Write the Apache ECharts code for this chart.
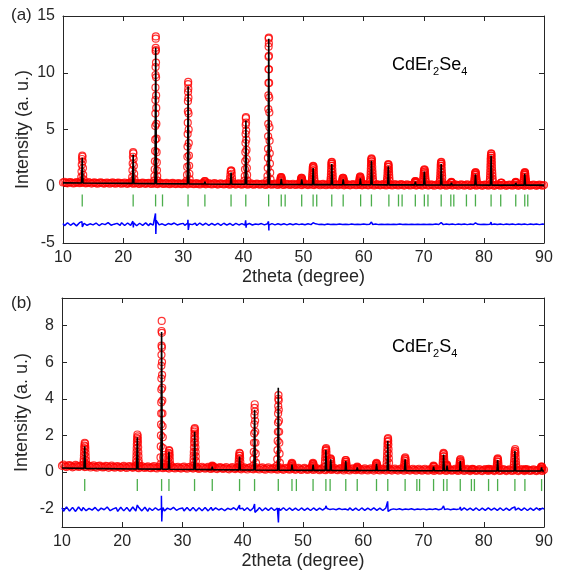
<!DOCTYPE html>
<html>
<head>
<meta charset="utf-8">
<script src="https://cdn.jsdelivr.net/npm/echarts@6/dist/echarts.min.js"></script>
<style>
html, body { margin: 0; padding: 0; background: #fff; }
#chart { width: 562px; height: 574px; }
</style>
</head>
<body>
<div id="chart"></div>
<script>
// ---------- scan grids (degrees 2theta): full steps and the half steps between them ----------
const scanStart = 10;
const scanStep = 0.5;
const halfStart = 10.25;

// ---------- (a) CdEr2Se4 ----------
// observed background intensity on the full-step grid
const obsBgA = [
  0.33,0.30,0.34,0.31,0.29,0.33,0.30,0.32,0.28,0.31,
  0.30,0.27,0.31,0.29,0.26,0.30,0.28,0.27,0.30,0.26,
  0.28,0.25,0.29,0.26,0.27,0.24,0.28,0.25,0.27,0.24,
  0.26,0.23,0.27,0.24,0.25,0.22,0.26,0.23,0.24,0.21,
  0.24,0.21,0.25,0.22,0.23,0.20,0.24,0.21,0.22,0.20,
  0.23,0.19,0.22,0.20,0.21,0.18,0.22,0.19,0.21,0.18,
  0.20,0.18,0.21,0.17,0.19,0.18,0.20,0.16,0.19,0.17,
  0.18,0.16,0.19,0.15,0.18,0.16,0.17,0.15,0.18,0.14,
  0.17,0.15,0.16,0.14,0.17,0.15,0.16,0.13,0.16,0.14,
  0.15,0.13,0.16,0.14,0.15,0.12,0.15,0.13,0.14,0.12,
  0.15,0.12,0.14,0.13,0.14,0.11,0.14,0.12,0.13,0.11,
  0.13,0.11,0.14,0.12,0.13,0.10,0.13,0.12,0.12,0.10,
  0.13,0.11,0.12,0.10,0.13,0.11,0.12,0.10,0.12,0.11,
  0.12,0.10,0.13,0.11,0.12,0.09,0.12,0.10,0.11,0.09,
  0.12,0.10,0.11,0.09,0.12,0.10,0.11,0.09,0.11,0.10,
  0.11,0.09,0.12,0.10,0.11,0.08,0.11,0.09,0.10,0.09,
  0.10
];
// observed background intensity on the half-step grid
const obsBgHalfA = [
  0.38,0.26,0.36,0.25,0.37,0.27,0.35,0.26,0.36,0.24,
  0.35,0.23,0.34,0.24,0.33,0.22,0.34,0.23,0.32,0.22,
  0.33,0.21,0.32,0.22,0.31,0.20,0.32,0.21,0.30,0.20,
  0.31,0.19,0.30,0.20,0.29,0.18,0.30,0.19,0.28,0.18,
  0.29,0.17,0.28,0.18,0.27,0.16,0.28,0.17,0.27,0.16,
  0.27,0.15,0.26,0.16,0.26,0.14,0.26,0.15,0.25,0.14,
  0.25,0.13,0.25,0.14,0.24,0.13,0.24,0.12,0.24,0.13,
  0.23,0.12,0.23,0.11,0.22,0.12,0.22,0.11,0.22,0.10,
  0.22,0.10,0.21,0.10,0.21,0.09,0.21,0.09,0.20,0.10,
  0.20,0.09,0.20,0.08,0.20,0.08,0.19,0.09,0.19,0.08,
  0.19,0.08,0.19,0.07,0.18,0.08,0.18,0.07,0.18,0.07,
  0.18,0.07,0.18,0.06,0.17,0.07,0.17,0.06,0.17,0.06,
  0.17,0.06,0.17,0.05,0.16,0.06,0.16,0.05,0.16,0.06,
  0.16,0.05,0.16,0.05,0.16,0.04,0.15,0.05,0.15,0.04,
  0.15,0.05,0.15,0.04,0.15,0.05,0.15,0.04,0.14,0.05,
  0.14,0.04,0.15,0.04,0.14,0.05,0.14,0.04,0.14,0.05
];
// observed points across the reflections [2theta, intensity]
const obsPeaksA = [
  [12.98,0.45],[13.04,0.8],[13.08,1.3],[13.12,1.9],[13.16,2.4],[13.20,2.7],[13.24,2.6],[13.28,2.2],[13.32,1.6],[13.36,1.0],[13.42,0.6],
  [21.45,0.45],[21.51,0.8],[21.55,1.4],[21.59,2.0],[21.63,2.6],[21.67,3.0],[21.71,2.9],[21.75,2.4],[21.79,1.8],[21.83,1.1],[21.89,0.6],
  [25.16,0.5],[25.21,0.9],[25.25,1.5],[25.28,2.2],[25.31,3.1],[25.33,4.1],[25.35,5.3],[25.36,6.4],[25.37,7.6],[25.38,8.7],[25.39,9.8],[25.40,10.5],[25.41,11.9],[25.42,12.2],[25.43,13.0],[25.44,13.2],[25.46,12.0],[25.47,10.9],[25.48,9.6],[25.49,8.0],[25.51,6.9],[25.53,5.5],[25.55,4.2],[25.57,3.0],[25.60,2.1],[25.63,1.4],[25.67,0.9],[25.72,0.5],
  [30.58,0.5],[30.63,1.0],[30.66,1.7],[30.69,2.6],[30.71,3.5],[30.73,4.6],[30.75,5.6],[30.77,6.6],[30.78,7.5],[30.80,8.3],[30.81,9.0],[30.82,9.2],[30.84,8.6],[30.86,7.8],[30.88,6.4],[30.90,5.0],[30.92,3.8],[30.95,2.7],[30.98,1.8],[31.02,1.1],[31.07,0.6],
  [33.50,0.35],[33.56,0.45],[33.62,0.45],[33.68,0.35],
  [37.73,0.4],[37.79,0.7],[37.84,1.0],[37.89,1.3],[37.95,1.4],[38.01,1.35],[38.06,1.1],[38.11,0.75],[38.17,0.45],
  [40.18,0.5],[40.23,0.9],[40.27,1.5],[40.30,2.2],[40.33,3.0],[40.35,3.8],[40.37,4.6],[40.39,5.4],[40.41,6.0],[40.43,6.1],[40.45,5.6],[40.47,4.9],[40.49,4.1],[40.52,3.2],[40.55,2.4],[40.58,1.6],[40.62,1.0],[40.67,0.5],
  [43.96,0.5],[44.01,0.9],[44.05,1.6],[44.08,2.5],[44.10,3.3],[44.12,4.4],[44.14,5.5],[44.15,6.8],[44.16,8.0],[44.17,9.1],[44.18,10.3],[44.19,11.4],[44.20,12.3],[44.21,13.0],[44.23,13.1],[44.24,12.6],[44.25,11.5],[44.26,10.3],[44.28,9.1],[44.30,7.8],[44.32,6.5],[44.34,5.2],[44.36,4.0],[44.39,2.9],[44.42,2.0],[44.46,1.2],[44.51,0.6],
  [46.10,0.35],[46.14,0.5],[46.17,0.6],[46.21,0.72],[46.24,0.8],[46.31,0.8],[46.35,0.72],[46.38,0.6],[46.41,0.5],[46.45,0.35],
  [49.50,0.35],[49.54,0.45],[49.57,0.55],[49.61,0.68],[49.64,0.75],[49.71,0.75],[49.75,0.65],[49.78,0.55],[49.82,0.45],[49.85,0.35],
  [51.38,0.4],[51.41,0.6],[51.44,0.8],[51.47,1.0],[51.49,1.2],[51.52,1.4],[51.54,1.6],[51.57,1.72],[51.60,1.8],[51.66,1.75],[51.69,1.6],[51.71,1.4],[51.74,1.15],[51.76,0.9],[51.79,0.7],[51.82,0.5],
  [54.48,0.4],[54.51,0.6],[54.54,0.8],[54.56,1.05],[54.58,1.3],[54.60,1.55],[54.62,1.8],[54.65,1.98],[54.67,2.1],[54.72,2.15],[54.75,2.0],[54.77,1.8],[54.80,1.5],[54.82,1.2],[54.85,0.95],[54.87,0.7],[54.93,0.4],
  [56.40,0.35],[56.44,0.45],[56.47,0.55],[56.51,0.68],[56.54,0.75],[56.61,0.75],[56.65,0.65],[56.68,0.55],[56.72,0.45],[56.75,0.35],
  [59.25,0.35],[59.29,0.48],[59.32,0.6],[59.36,0.74],[59.39,0.85],[59.46,0.85],[59.50,0.72],[59.53,0.6],[59.57,0.47],[59.60,0.35],
  [61.08,0.4],[61.11,0.6],[61.14,0.8],[61.16,1.05],[61.18,1.3],[61.20,1.55],[61.22,1.8],[61.24,2.0],[61.26,2.2],[61.28,2.35],[61.30,2.45],[61.35,2.4],[61.38,2.2],[61.40,2.0],[61.43,1.7],[61.45,1.4],[61.48,1.15],[61.50,0.9],[61.53,0.65],[61.56,0.45],
  [63.88,0.4],[63.91,0.6],[63.94,0.8],[63.97,1.05],[63.99,1.3],[64.02,1.5],[64.04,1.7],[64.07,1.85],[64.09,1.95],[64.15,1.9],[64.18,1.7],[64.20,1.5],[64.23,1.25],[64.25,1.0],[64.28,0.75],[64.31,0.5],
  [68.50,0.3],[68.54,0.38],[68.57,0.45],[68.64,0.45],[68.68,0.38],[68.71,0.3],
  [69.88,0.4],[69.91,0.58],[69.94,0.75],[69.97,0.92],[69.99,1.1],[70.02,1.25],[70.04,1.4],[70.10,1.5],[70.16,1.45],[70.19,1.3],[70.21,1.15],[70.24,0.95],[70.26,0.75],[70.29,0.58],[70.32,0.4],
  [72.68,0.4],[72.71,0.6],[72.74,0.8],[72.76,1.05],[72.78,1.3],[72.80,1.55],[72.82,1.8],[72.85,1.98],[72.87,2.1],[72.92,2.15],[72.95,2.0],[72.97,1.8],[73.00,1.5],[73.02,1.2],[73.05,0.95],[73.07,0.7],[73.13,0.35],
  [74.52,0.3],[74.56,0.35],[74.60,0.38],[74.64,0.35],[74.68,0.3],
  [78.38,0.35],[78.42,0.5],[78.45,0.65],[78.48,0.82],[78.51,1.0],[78.54,1.12],[78.57,1.2],[78.63,1.25],[78.66,1.15],[78.69,1.0],[78.72,0.82],[78.75,0.65],[78.79,0.5],[78.82,0.35],
  [80.98,0.4],[81.01,0.6],[81.03,0.8],[81.05,1.05],[81.07,1.3],[81.09,1.55],[81.10,1.8],[81.12,2.05],[81.13,2.3],[81.15,2.5],[81.17,2.7],[81.21,2.9],[81.25,2.85],[81.27,2.7],[81.29,2.5],[81.31,2.25],[81.33,2.0],[81.35,1.7],[81.37,1.4],[81.40,1.15],[81.42,0.9],[81.45,0.65],[81.48,0.45],
  [82.85,0.3],[82.90,0.32],[82.95,0.3],
  [85.22,0.3],[85.26,0.35],[85.30,0.38],[85.34,0.35],[85.38,0.3],
  [86.58,0.35],[86.62,0.5],[86.65,0.65],[86.68,0.82],[86.71,1.0],[86.74,1.12],[86.77,1.2],[86.83,1.25],[86.86,1.15],[86.89,1.0],[86.92,0.82],[86.95,0.65],[86.99,0.5],[87.02,0.35]
];
// calculated profile [2theta, intensity]
const calcA = [
  [10,0.30],[13.08,0.28],[13.2,2.5],[13.32,0.28],
  [21.55,0.25],[21.67,2.8],[21.79,0.25],
  [25.30,0.23],[25.42,12.2],[25.54,0.23],
  [30.70,0.21],[30.81,8.8],[30.93,0.21],
  [33.50,0.20],[33.6,0.4],[33.70,0.20],
  [37.85,0.18],[37.95,1.2],[38.07,0.18],
  [40.30,0.17],[40.42,5.8],[40.54,0.17],
  [44.10,0.16],[44.22,13.0],[44.34,0.16],
  [46.20,0.15],[46.3,0.65],[46.42,0.15],
  [49.60,0.15],[49.7,0.6],[49.82,0.15],
  [51.50,0.14],[51.6,1.6],[51.72,0.14],
  [54.60,0.14],[54.7,1.95],[54.82,0.14],
  [56.50,0.13],[56.6,0.6],[56.72,0.13],
  [59.35,0.13],[59.45,0.7],[59.57,0.13],
  [61.20,0.13],[61.3,2.25],[61.42,0.13],
  [64.00,0.12],[64.1,1.75],[64.22,0.12],
  [68.50,0.12],[68.6,0.4],[68.72,0.12],
  [70.00,0.12],[70.1,1.3],[70.22,0.12],
  [72.80,0.11],[72.9,1.95],[73.02,0.11],
  [74.50,0.11],[74.6,0.3],[74.72,0.11],
  [78.50,0.11],[78.6,1.05],[78.72,0.11],
  [81.10,0.10],[81.2,2.7],[81.32,0.10],
  [82.80,0.10],[82.9,0.25],[83.00,0.10],
  [85.20,0.10],[85.3,0.3],[85.42,0.10],
  [86.70,0.10],[86.8,1.1],[86.92,0.10],
  [90,0.10]
];
// Bragg reflection positions
const braggA = [13.2,21.67,25.4,26.55,30.8,33.6,37.95,40.4,44.2,46.3,46.95,49.7,51.6,52.2,54.7,56.6,59.5,61.3,64.2,65.8,66.4,68.6,70.1,70.7,72.9,74.5,75.0,77.1,78.6,81.2,82.8,85.3,86.8,87.3];
const braggLevelA = -1.25;
// difference curve (obs - calc, offset) on the full-step grid
const diffBaseA = [
  -3.28,-3.45,-3.30,-3.42,-3.22,-3.47,-3.33,-3.26,-3.44,-3.31,
  -3.40,-3.24,-3.46,-3.29,-3.38,-3.21,-3.43,-3.34,-3.27,-3.45,
  -3.32,-3.41,-3.25,-3.47,-3.30,-3.39,-3.23,-3.44,-3.36,-3.28,
  -3.42,-3.26,-3.40,-3.31,-3.45,-3.29,-3.37,-3.24,-3.41,-3.33,
  -3.27,-3.43,-3.32,-3.38,-3.26,-3.42,-3.30,-3.40,-3.29,-3.36,
  -3.41,-3.28,-3.39,-3.31,-3.43,-3.30,-3.37,-3.27,-3.40,-3.33,
  -3.30,-3.39,-3.28,-3.41,-3.32,-3.37,-3.29,-3.40,-3.31,-3.38,
  -3.33,-3.39,-3.30,-3.37,-3.32,-3.40,-3.31,-3.36,-3.34,-3.38,
  -3.32,-3.37,-3.33,-3.38,-3.31,-3.36,-3.34,-3.39,-3.32,-3.37,
  -3.34,-3.37,-3.32,-3.36,-3.35,-3.38,-3.33,-3.37,-3.34,-3.36,
  -3.33,-3.37,-3.35,-3.36,-3.33,-3.38,-3.34,-3.36,-3.35,-3.37,
  -3.34,-3.36,-3.33,-3.37,-3.35,-3.36,-3.34,-3.37,-3.35,-3.36,
  -3.34,-3.37,-3.35,-3.36,-3.33,-3.37,-3.35,-3.36,-3.34,-3.37,
  -3.35,-3.36,-3.34,-3.37,-3.35,-3.36,-3.34,-3.36,-3.35,-3.37,
  -3.34,-3.36,-3.35,-3.37,-3.34,-3.36,-3.35,-3.36,-3.34,-3.37,
  -3.35,-3.36,-3.34,-3.37,-3.35,-3.36,-3.34,-3.36,-3.35,-3.36,
  -3.35
];
// difference curve on the half-step grid
const diffHalfA = [
  -3.47,-3.22,-3.44,-3.25,-3.49,-3.21,-3.43,-3.27,-3.46,-3.23,
  -3.45,-3.20,-3.48,-3.26,-3.44,-3.22,-3.47,-3.25,-3.43,-3.21,
  -3.46,-3.24,-3.45,-3.22,-3.48,-3.26,-3.44,-3.23,-3.47,-3.25,
  -3.44,-3.22,-3.46,-3.25,-3.43,-3.23,-3.47,-3.26,-3.44,-3.24,
  -3.45,-3.25,-3.43,-3.27,-3.46,-3.24,-3.42,-3.26,-3.45,-3.28,
  -3.43,-3.27,-3.44,-3.26,-3.42,-3.28,-3.44,-3.27,-3.41,-3.29,
  -3.42,-3.28,-3.41,-3.29,-3.43,-3.28,-3.40,-3.30,-3.42,-3.29,
  -3.40,-3.30,-3.39,-3.31,-3.40,-3.30,-3.39,-3.31,-3.38,-3.32,
  -3.39,-3.31,-3.38,-3.32,-3.39,-3.31,-3.38,-3.32,-3.38,-3.31,
  -3.38,-3.32,-3.37,-3.33,-3.38,-3.32,-3.37,-3.33,-3.38,-3.32,
  -3.37,-3.33,-3.38,-3.32,-3.37,-3.33,-3.38,-3.33,-3.37,-3.32,
  -3.38,-3.33,-3.37,-3.32,-3.38,-3.33,-3.37,-3.33,-3.38,-3.32,
  -3.37,-3.32,-3.38,-3.33,-3.37,-3.32,-3.38,-3.33,-3.37,-3.33,
  -3.38,-3.33,-3.37,-3.32,-3.38,-3.33,-3.37,-3.32,-3.38,-3.33,
  -3.37,-3.33,-3.38,-3.32,-3.37,-3.33,-3.38,-3.33,-3.37,-3.32,
  -3.38,-3.32,-3.37,-3.33,-3.38,-3.33,-3.37,-3.32,-3.38,-3.33
];
// misfit excursions at the reflections [2theta, difference]
const diffSpikesA = [
  [13.15,-3.12],[13.22,-3.58],
  [21.62,-3.08],[21.70,-3.62],
  [25.38,-2.4],[25.44,-4.2],[25.50,-3.0],
  [30.78,-2.95],[30.84,-3.85],
  [37.95,-3.12],
  [40.38,-3.0],[40.45,-3.65],
  [44.18,-3.1],[44.24,-3.9],
  [51.60,-3.22],[54.70,-3.2],[61.30,-3.15],[64.10,-3.2],[70.10,-3.22],[72.90,-3.2],[78.60,-3.22],
  [81.20,-3.15],[81.27,-3.45],[86.80,-3.22]
];

// ---------- (b) CdEr2S4 ----------
const obsBgB = [
  0.34,0.31,0.35,0.32,0.30,0.34,0.31,0.33,0.29,0.32,
  0.31,0.28,0.32,0.30,0.27,0.31,0.29,0.28,0.30,0.27,
  0.29,0.26,0.30,0.27,0.28,0.25,0.29,0.26,0.27,0.24,
  0.27,0.24,0.27,0.25,0.26,0.23,0.26,0.23,0.25,0.22,
  0.25,0.22,0.25,0.23,0.24,0.21,0.24,0.22,0.23,0.20,
  0.23,0.20,0.23,0.21,0.22,0.19,0.22,0.20,0.21,0.19,
  0.21,0.19,0.22,0.18,0.20,0.18,0.21,0.17,0.20,0.18,
  0.19,0.17,0.20,0.16,0.19,0.17,0.18,0.16,0.18,0.15,
  0.18,0.16,0.17,0.15,0.18,0.15,0.17,0.14,0.16,0.15,
  0.16,0.14,0.17,0.15,0.16,0.13,0.16,0.14,0.15,0.13,
  0.15,0.13,0.15,0.14,0.14,0.12,0.15,0.13,0.14,0.12,
  0.14,0.12,0.14,0.13,0.13,0.11,0.14,0.12,0.13,0.11,
  0.13,0.11,0.13,0.12,0.13,0.10,0.12,0.11,0.12,0.10,
  0.12,0.10,0.13,0.11,0.12,0.10,0.12,0.10,0.11,0.09,
  0.12,0.10,0.11,0.10,0.11,0.09,0.11,0.10,0.11,0.09,
  0.11,0.09,0.11,0.10,0.10,0.09,0.11,0.09,0.10,0.09,
  0.12
];
const obsBgHalfB = [
  0.40,0.27,0.38,0.26,0.39,0.28,0.37,0.27,0.38,0.25,
  0.36,0.24,0.35,0.25,0.34,0.23,0.35,0.24,0.33,0.23,
  0.34,0.22,0.33,0.23,0.32,0.21,0.33,0.22,0.31,0.21,
  0.32,0.20,0.31,0.21,0.30,0.19,0.31,0.20,0.29,0.19,
  0.30,0.18,0.29,0.19,0.28,0.17,0.29,0.18,0.28,0.17,
  0.28,0.16,0.27,0.17,0.27,0.15,0.27,0.16,0.26,0.15,
  0.26,0.14,0.26,0.15,0.25,0.14,0.25,0.13,0.25,0.14,
  0.24,0.13,0.24,0.12,0.23,0.13,0.23,0.12,0.23,0.11,
  0.23,0.11,0.22,0.11,0.22,0.10,0.22,0.10,0.21,0.11,
  0.21,0.10,0.21,0.09,0.21,0.09,0.20,0.10,0.20,0.09,
  0.20,0.09,0.20,0.08,0.19,0.09,0.19,0.08,0.19,0.08,
  0.19,0.08,0.19,0.07,0.18,0.08,0.18,0.07,0.18,0.07,
  0.18,0.07,0.18,0.06,0.17,0.07,0.17,0.06,0.17,0.07,
  0.17,0.06,0.17,0.06,0.17,0.05,0.16,0.06,0.16,0.05,
  0.16,0.06,0.16,0.05,0.16,0.06,0.16,0.05,0.15,0.06,
  0.15,0.05,0.16,0.05,0.15,0.06,0.15,0.05,0.15,0.06
];
const obsPeaksB = [
  [13.55,0.4],[13.58,0.55],[13.61,0.7],[13.64,0.9],[13.66,1.1],[13.69,1.3],[13.71,1.45],[13.77,1.6],[13.83,1.55],[13.86,1.4],[13.88,1.25],[13.91,1.05],[13.93,0.85],[13.96,0.65],[13.99,0.45],
  [22.28,0.35],[22.31,0.52],[22.34,0.7],[22.36,0.9],[22.38,1.1],[22.40,1.3],[22.42,1.5],[22.44,1.68],[22.46,1.85],[22.51,2.05],[22.56,1.95],[22.59,1.78],[22.61,1.6],[22.64,1.35],[22.66,1.1],[22.69,0.88],[22.71,0.65],[22.74,0.5],[22.77,0.35],
  [26.30,0.4],[26.35,0.8],[26.39,1.4],[26.42,2.0],[26.44,2.6],[26.46,3.2],[26.47,3.8],[26.48,4.5],[26.49,5.1],[26.50,5.8],[26.51,6.4],[26.52,6.9],[26.53,7.7],[26.55,8.25],[26.57,7.6],[26.58,6.8],[26.60,6.0],[26.61,5.3],[26.63,4.6],[26.65,3.9],[26.67,3.2],[26.69,2.5],[26.72,1.9],[26.75,1.3],[26.79,0.8],[26.84,0.4],
  [27.60,0.4],[27.63,0.58],[27.66,0.75],[27.69,0.92],[27.71,1.05],[27.76,1.2],[27.82,1.15],[27.85,1.0],[27.87,0.85],[27.90,0.65],[27.93,0.45],
  [31.78,0.35],[31.81,0.52],[31.84,0.7],[31.86,0.9],[31.88,1.1],[31.90,1.35],[31.92,1.6],[31.94,1.8],[31.96,2.0],[31.98,2.2],[32.00,2.35],[32.04,2.4],[32.06,2.28],[32.08,2.1],[32.10,1.85],[32.12,1.6],[32.15,1.35],[32.17,1.1],[32.20,0.85],[32.22,0.6],[32.28,0.3],
  [34.86,0.25],[34.90,0.3],[34.94,0.35],[34.98,0.33],[35.02,0.3],
  [39.27,0.3],[39.30,0.45],[39.33,0.6],[39.36,0.75],[39.39,0.9],[39.45,1.05],[39.51,1.0],[39.54,0.88],[39.57,0.75],[39.60,0.55],[39.64,0.35],
  [41.74,0.35],[41.79,0.7],[41.83,1.1],[41.86,1.6],[41.89,2.1],[41.92,2.6],[41.94,3.1],[41.96,3.5],[41.99,3.7],[42.02,3.3],[42.05,2.8],[42.08,2.2],[42.11,1.6],[42.15,1.0],[42.20,0.5],
  [45.68,0.35],[45.73,0.7],[45.77,1.2],[45.80,1.7],[45.83,2.2],[45.85,2.7],[45.87,3.2],[45.89,3.6],[45.91,4.0],[45.93,4.2],[45.96,3.9],[45.98,3.4],[46.01,2.8],[46.04,2.2],[46.07,1.6],[46.11,1.0],[46.16,0.5],
  [48.00,0.25],[48.04,0.32],[48.08,0.4],[48.12,0.46],[48.16,0.5],[48.24,0.45],[48.28,0.35],[48.32,0.25],
  [51.50,0.25],[51.54,0.32],[51.58,0.4],[51.62,0.46],[51.66,0.5],[51.74,0.45],[51.78,0.35],[51.82,0.25],
  [53.60,0.3],[53.63,0.48],[53.66,0.65],[53.69,0.82],[53.72,1.0],[53.75,1.15],[53.78,1.25],[53.84,1.3],[53.87,1.2],[53.90,1.05],[53.93,0.85],[53.96,0.65],
  [54.50,0.6],[54.54,0.68],[54.57,0.75],[54.64,0.7],[54.68,0.58],[54.71,0.45],[54.75,0.32],[54.78,0.2],
  [56.92,0.25],[56.96,0.35],[56.99,0.45],[57.03,0.56],[57.06,0.65],[57.13,0.65],[57.17,0.55],[57.20,0.45],[57.24,0.35],[57.27,0.25],
  [58.92,0.2],[58.96,0.26],[59.00,0.3],[59.04,0.26],[59.08,0.2],
  [62.03,0.25],[62.07,0.32],[62.11,0.4],[62.15,0.46],[62.19,0.5],[62.27,0.45],[62.31,0.35],[62.35,0.25],
  [63.86,0.3],[63.89,0.5],[63.92,0.7],[63.95,0.9],[63.97,1.1],[64.00,1.3],[64.02,1.5],[64.05,1.65],[64.07,1.8],[64.12,1.85],[64.15,1.7],[64.17,1.5],[64.20,1.25],[64.22,1.0],[64.25,0.75],[64.28,0.5],
  [66.76,0.25],[66.80,0.38],[66.83,0.5],[66.87,0.64],[66.90,0.75],[66.97,0.8],[67.01,0.7],[67.04,0.6],[67.08,0.45],[67.11,0.3],
  [71.58,0.2],[71.62,0.28],[71.66,0.35],[71.70,0.33],[71.74,0.3],[71.82,0.15],
  [73.14,0.25],[73.17,0.4],[73.20,0.55],[73.23,0.7],[73.26,0.85],[73.29,0.96],[73.32,1.05],[73.38,1.0],[73.41,0.85],[73.44,0.7],[73.47,0.55],[73.50,0.4],
  [73.82,0.35],[73.86,0.38],[73.90,0.4],[73.94,0.33],[73.98,0.25],
  [75.92,0.2],[75.96,0.32],[75.99,0.45],[76.03,0.56],[76.06,0.65],[76.13,0.7],[76.17,0.6],[76.20,0.5],[76.24,0.38],[76.27,0.25],
  [78.05,0.15],[78.13,0.18],
  [80.75,0.15],[80.83,0.17],
  [82.12,0.2],[82.16,0.32],[82.19,0.45],[82.23,0.58],[82.26,0.7],[82.33,0.75],[82.37,0.66],[82.40,0.55],[82.44,0.4],[82.47,0.25],
  [84.97,0.25],[85.00,0.4],[85.03,0.55],[85.06,0.72],[85.09,0.9],[85.12,1.03],[85.15,1.15],[85.21,1.25],[85.24,1.12],[85.27,1.0],[85.30,0.8],[85.33,0.6],[85.37,0.42],[85.40,0.25],
  [86.85,0.13],[86.93,0.16],
  [89.48,0.18],[89.52,0.25],[89.56,0.3],[89.64,0.3],[89.68,0.25],[89.72,0.18]
];
const calcB = [
  [10,0.22],[13.65,0.20],[13.77,1.4],[13.89,0.20],
  [22.38,0.17],[22.5,1.9],[22.62,0.17],
  [26.42,0.16],[26.53,7.65],[26.65,0.16],
  [27.65,0.15],[27.75,1.1],[27.87,0.15],
  [31.90,0.14],[32.02,2.2],[32.14,0.14],
  [34.86,0.13],[34.94,0.3],[35.04,0.13],
  [39.37,0.12],[39.47,0.85],[39.59,0.12],
  [41.86,0.11],[41.97,3.4],[42.09,0.11],
  [45.80,0.10],[45.9,4.6],[46.02,0.10],
  [48.07,0.10],[48.17,0.4],[48.29,0.10],
  [51.57,0.09],[51.67,0.4],[51.79,0.09],
  [53.70,0.09],[53.8,1.2],[53.92,0.09],
  [54.50,0.09],[54.6,0.7],[54.72,0.09],
  [57.00,0.08],[57.1,0.6],[57.22,0.08],
  [58.90,0.08],[59.0,0.25],[59.12,0.08],
  [62.10,0.08],[62.2,0.45],[62.32,0.08],
  [63.97,0.08],[64.07,1.7],[64.19,0.08],
  [66.85,0.07],[66.95,0.7],[67.07,0.07],
  [71.57,0.07],[71.67,0.3],[71.79,0.07],
  [73.23,0.07],[73.33,0.95],[73.45,0.07],
  [73.80,0.07],[73.9,0.35],[74.02,0.07],
  [76.00,0.07],[76.1,0.6],[76.22,0.07],
  [78.00,0.06],[78.1,0.12],[78.20,0.06],
  [80.70,0.06],[80.8,0.12],[80.90,0.06],
  [82.20,0.06],[82.3,0.65],[82.42,0.06],
  [85.07,0.06],[85.17,1.15],[85.29,0.06],
  [86.80,0.06],[86.9,0.12],[87.00,0.06],
  [89.50,0.06],[89.6,0.25],[89.72,0.06],
  [90,0.06]
];
const braggB = [13.77,22.5,26.53,27.75,32.0,34.94,39.47,41.96,45.9,48.17,48.9,51.67,53.8,54.5,57.1,59.0,62.2,64.07,66.95,68.9,69.35,71.67,73.33,73.9,76.1,77.95,78.45,80.8,82.3,85.17,86.83,89.6];
const braggLevelB = -0.71;
const diffBaseB = [
  -1.95,-2.12,-1.97,-2.10,-1.92,-2.13,-2.00,-1.94,-2.11,-1.98,
  -2.08,-1.93,-2.12,-1.97,-2.06,-1.91,-2.11,-2.01,-1.95,-2.12,
  -1.99,-2.09,-1.94,-2.13,-1.98,-2.07,-1.93,-2.10,-2.03,-1.96,
  -2.10,-1.95,-2.08,-1.99,-2.12,-1.97,-2.05,-1.93,-2.09,-2.00,
  -1.96,-2.10,-2.00,-2.06,-1.95,-2.10,-1.98,-2.08,-1.97,-2.04,
  -2.09,-1.96,-2.07,-1.99,-2.11,-1.98,-2.05,-1.95,-2.08,-2.01,
  -1.98,-2.07,-1.96,-2.09,-2.00,-2.05,-1.97,-2.08,-1.99,-2.06,
  -2.00,-2.07,-1.97,-2.05,-1.99,-2.08,-1.98,-2.04,-2.01,-2.06,
  -1.99,-2.06,-2.00,-2.07,-1.98,-2.04,-2.01,-2.07,-1.99,-2.05,
  -2.01,-2.06,-1.99,-2.05,-2.02,-2.07,-2.00,-2.05,-2.01,-2.04,
  -2.00,-2.06,-2.02,-2.05,-1.99,-2.07,-2.01,-2.04,-2.02,-2.06,
  -2.01,-2.05,-2.00,-2.06,-2.02,-2.04,-2.00,-2.06,-2.02,-2.05,
  -2.01,-2.06,-2.02,-2.04,-2.00,-2.06,-2.02,-2.05,-2.01,-2.06,
  -2.02,-2.05,-2.01,-2.06,-2.02,-2.04,-2.00,-2.05,-2.02,-2.06,
  -2.01,-2.05,-2.02,-2.06,-2.01,-2.04,-2.02,-2.05,-2.01,-2.06,
  -2.02,-2.05,-2.01,-2.06,-2.02,-2.04,-2.01,-2.05,-2.02,-2.04,
  -2.03
];
const diffHalfB = [
  -2.14,-1.90,-2.13,-1.93,-2.15,-1.91,-2.12,-1.94,-2.14,-1.92,
  -2.13,-1.91,-2.14,-1.94,-2.12,-1.90,-2.13,-1.93,-2.15,-1.92,
  -2.12,-1.93,-2.14,-1.91,-2.13,-1.94,-2.12,-1.92,-2.14,-1.93,
  -2.13,-1.92,-2.12,-1.94,-2.14,-1.93,-2.11,-1.92,-2.13,-1.94,
  -2.12,-1.94,-2.11,-1.93,-2.13,-1.95,-2.11,-1.94,-2.12,-1.93,
  -2.11,-1.95,-2.12,-1.94,-2.10,-1.95,-2.11,-1.94,-2.12,-1.96,
  -2.10,-1.95,-2.11,-1.96,-2.10,-1.94,-2.11,-1.96,-2.09,-1.95,
  -2.10,-1.96,-2.09,-1.95,-2.10,-1.96,-2.09,-1.97,-2.10,-1.96,
  -2.09,-1.97,-2.10,-1.96,-2.09,-1.97,-2.08,-1.96,-2.09,-1.97,
  -2.10,-1.96,-2.09,-1.97,-2.08,-1.96,-2.09,-1.97,-2.10,-1.96,
  -2.09,-1.97,-2.08,-1.96,-2.09,-1.97,-2.10,-1.96,-2.09,-1.97,
  -2.08,-1.97,-2.09,-1.96,-2.10,-1.97,-2.09,-1.96,-2.08,-1.97,
  -2.09,-1.96,-2.10,-1.97,-2.09,-1.96,-2.08,-1.97,-2.09,-1.96,
  -2.10,-1.97,-2.09,-1.96,-2.08,-1.97,-2.09,-1.96,-2.10,-1.97,
  -2.09,-1.96,-2.08,-1.97,-2.09,-1.96,-2.10,-1.97,-2.09,-1.96,
  -2.08,-1.97,-2.09,-1.96,-2.10,-1.97,-2.09,-1.96,-2.08,-1.97
];
const diffSpikesB = [
  [13.77,-1.85],[22.50,-1.8],
  [26.50,-1.3],[26.56,-2.7],[26.62,-2.2],
  [27.75,-1.9],[32.00,-1.9],[39.47,-1.8],
  [41.96,-1.75],[42.02,-2.2],
  [45.85,-1.9],[45.92,-2.75],
  [53.80,-1.85],[64.05,-1.6],[64.12,-2.15],
  [73.33,-1.85],[76.10,-1.9],[85.17,-1.9]
];

// axis tick labels
const xTicks = [10, 20, 30, 40, 50, 60, 70, 80, 90];
const yTicksA = [-5, 0, 5, 10, 15];
const yTicksB = [-2, 0, 2, 4, 6, 8];

// ---------- helpers ----------
const FONT = '"Liberation Sans", Arial, Helvetica, sans-serif';
const AXIS_COLOR = '#262626';

function onGrid(values, start) {
  return values.map((v, i) => [start + i * scanStep, v]);
}
function byX(a, b) { return a[0] - b[0]; }

function xAxes(gi) {
  const common = {
    gridIndex: gi, type: 'value', min: xTicks[0], max: xTicks[xTicks.length - 1], interval: 10,
    axisLine: { show: true, onZero: false, lineStyle: { color: AXIS_COLOR, width: 1 } },
    axisTick: { show: true, inside: true, length: 5, lineStyle: { color: AXIS_COLOR } },
    splitLine: { show: false }
  };
  return [
    Object.assign({}, common, {
      position: 'bottom',
      axisLabel: { color: AXIS_COLOR, fontSize: 16, fontFamily: FONT, margin: 7 },
      name: '2theta (degree)', nameLocation: 'middle', nameGap: 25, nameMoveOverlap: false,
      nameTextStyle: { color: AXIS_COLOR, fontSize: 18, fontFamily: FONT }
    }),
    Object.assign({}, common, { position: 'top', axisLabel: { show: false } })
  ];
}
function yAxes(gi, min, max, ticks) {
  const common = {
    gridIndex: gi, type: 'value', min: min, max: max,
    axisLine: { show: true, onZero: false, lineStyle: { color: AXIS_COLOR, width: 1 } },
    axisTick: { show: true, inside: true, length: 5, customValues: ticks, lineStyle: { color: AXIS_COLOR } },
    splitLine: { show: false }
  };
  return [
    Object.assign({}, common, {
      position: 'left',
      axisLabel: { color: AXIS_COLOR, fontSize: 16, fontFamily: FONT, margin: 8, customValues: ticks },
      name: 'Intensity (a. u.)', nameLocation: 'middle', nameGap: 31, nameMoveOverlap: false,
      nameTextStyle: { color: AXIS_COLOR, fontSize: 18, fontFamily: FONT }
    }),
    Object.assign({}, common, { position: 'right', axisLabel: { show: false } })
  ];
}
function panelSeries(ax, obsBg, obsBgHalf, obsPeaks, calc, bragg, braggLevel, diffBase, diffHalf, diffSpikes) {
  const obs = onGrid(obsBg, scanStart).concat(onGrid(obsBgHalf, halfStart), obsPeaks);
  const diff = onGrid(diffBase, scanStart).concat(onGrid(diffHalf, halfStart), diffSpikes).sort(byX);
  return [
    {
      type: 'scatter', xAxisIndex: ax, yAxisIndex: ax, data: obs,
      symbol: 'circle', symbolSize: 7,
      itemStyle: { color: 'transparent', borderColor: '#ff0000', borderWidth: 1.2 },
      silent: true, z: 2
    },
    {
      type: 'line', xAxisIndex: ax, yAxisIndex: ax, data: calc,
      showSymbol: false, lineStyle: { color: '#000000', width: 1.6 },
      silent: true, z: 3
    },
    {
      type: 'scatter', xAxisIndex: ax, yAxisIndex: ax,
      data: bragg.map(x => [x, braggLevel]),
      symbol: 'rect', symbolSize: [1.3, 12],
      itemStyle: { color: '#1f9a1f' }, silent: true, z: 3
    },
    {
      type: 'line', xAxisIndex: ax, yAxisIndex: ax, data: diff,
      showSymbol: false, lineStyle: { color: '#0000ff', width: 1.5 },
      silent: true, z: 3
    }
  ];
}

const chart = echarts.init(document.getElementById('chart'), null, { renderer: 'canvas' });

const subRich = {
  m: { fontSize: 18, fontFamily: FONT, color: '#000', lineHeight: 24 },
  s: { fontSize: 11, fontFamily: FONT, color: '#000', lineHeight: 12, verticalAlign: 'bottom' }
};

chart.setOption({
  animation: false,
  backgroundColor: '#ffffff',
  grid: [
    { left: 63, top: 16, width: 481, height: 227 },
    { left: 62, top: 298, width: 482, height: 229 }
  ],
  xAxis: xAxes(0).concat(xAxes(1)),
  yAxis: yAxes(0, -5, 15, yTicksA).concat(yAxes(1, -3, 9.5, yTicksB)),
  series: [].concat(
    panelSeries(0, obsBgA, obsBgHalfA, obsPeaksA, calcA, braggA, braggLevelA, diffBaseA, diffHalfA, diffSpikesA),
    panelSeries(2, obsBgB, obsBgHalfB, obsPeaksB, calcB, braggB, braggLevelB, diffBaseB, diffHalfB, diffSpikesB)
  ),
  graphic: [
    { type: 'text', left: 11, top: 7, style: { text: '(a)', font: '17px ' + FONT, fill: AXIS_COLOR } },
    { type: 'text', left: 11, top: 295, style: { text: '(b)', font: '17px ' + FONT, fill: AXIS_COLOR } },
    { type: 'text', left: 392, top: 56, style: { text: '{m|CdEr}{s|2}{m|Se}{s|4}', rich: subRich } },
    { type: 'text', left: 392, top: 338, style: { text: '{m|CdEr}{s|2}{m|S}{s|4}', rich: subRich } }
  ]
});
</script>
</body>
</html>
